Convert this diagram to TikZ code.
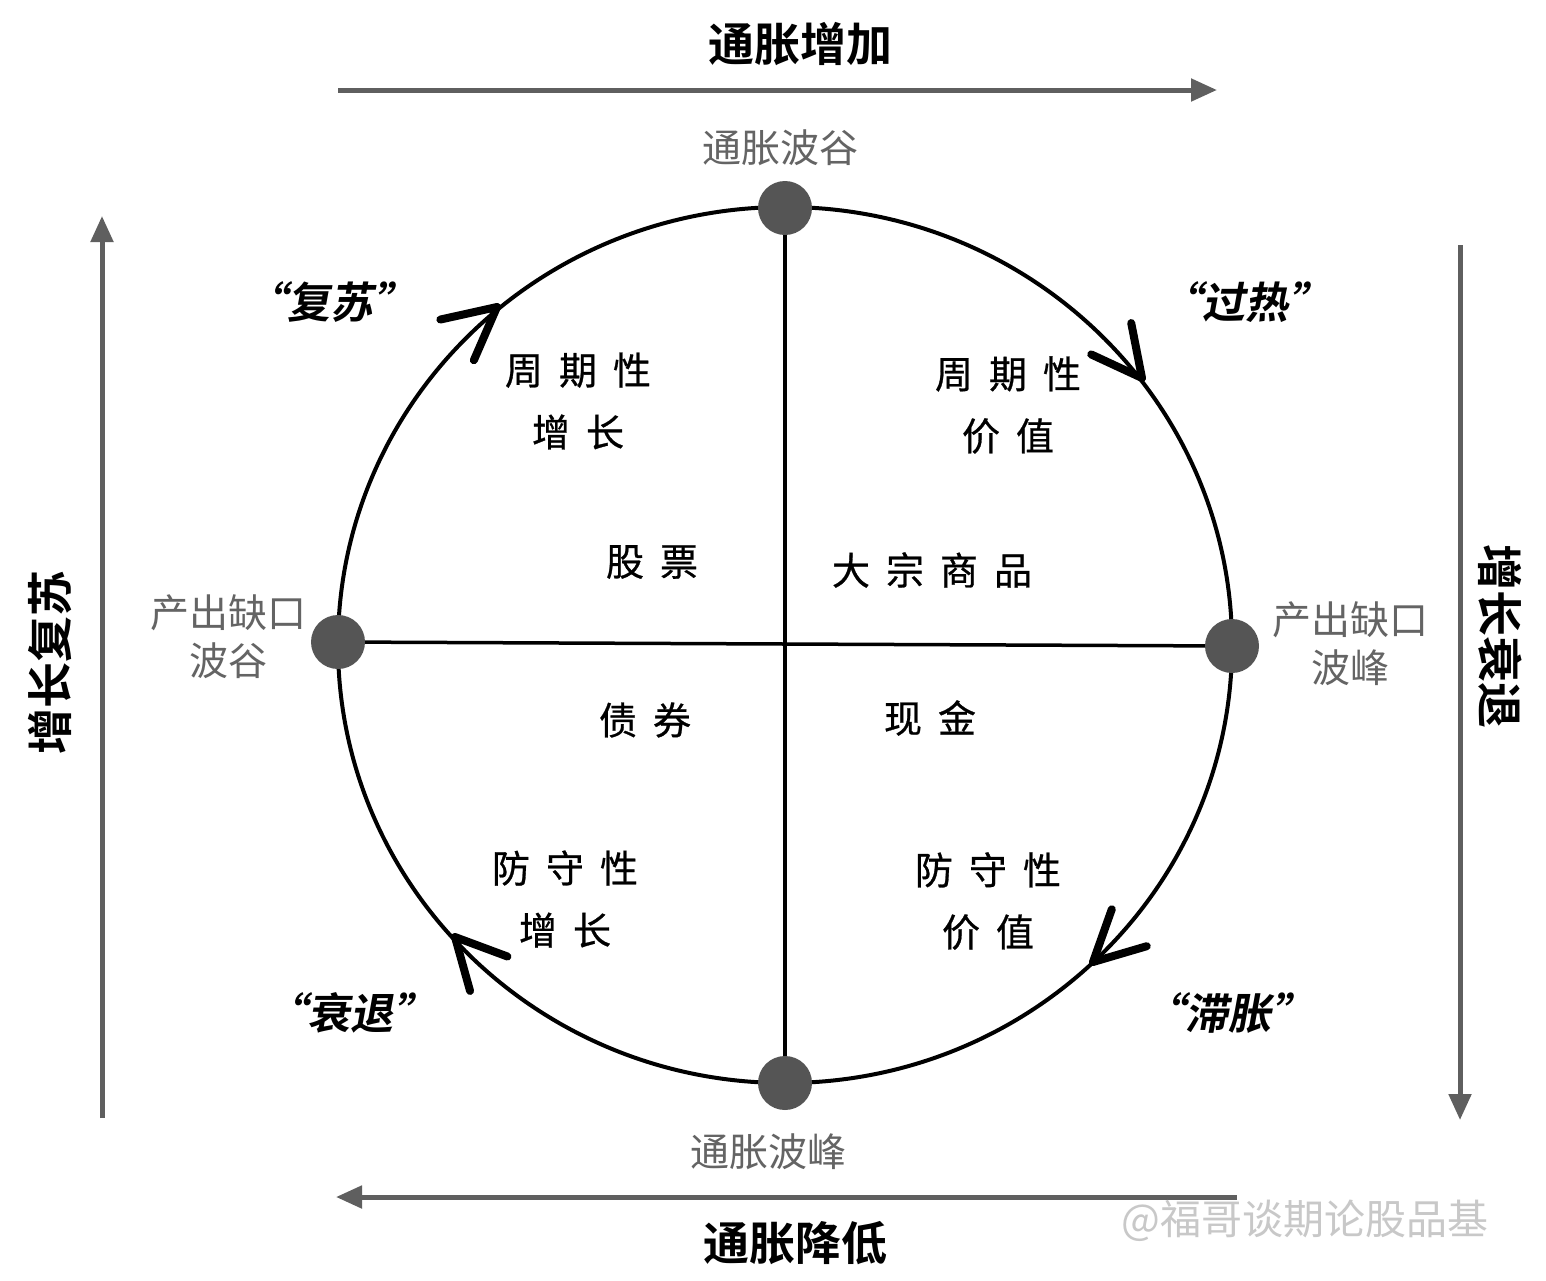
\documentclass[tikz,border=0pt]{standalone}
\usepackage{fontspec}
\setmainfont{Noto Sans CJK SC}
\newfontfamily\cjkb{Noto Sans CJK SC Bold}
\newfontfamily\cjkbi{Noto Sans CJK SC Bold}[FakeSlant=0.18]
\newfontfamily\cjkm{Noto Sans CJK SC}[FakeBold=0.7]
\usetikzlibrary{arrows.meta,backgrounds,calc}
\definecolor{arrgray}{RGB}{95,95,95}
\definecolor{dotgray}{RGB}{85,85,85}
\definecolor{lblgray}{RGB}{100,100,100}
\definecolor{wmgray}{RGB}{200,200,200}
\newcommand\lsgap{\hspace{16pt}}
\begin{document}
\begin{tikzpicture}[x=1pt,y=-1pt,
  bigarrow/.style={draw=arrgray,line width=5pt,-{Triangle[length=26pt,width=22pt]}},
  dirlabel/.style={font=\cjkb\fontsize{46}{52}\selectfont,text=black,inner sep=0pt},
  dotnode/.style={circle,fill=dotgray,minimum size=54pt,inner sep=0pt},
  ptlabel/.style={font=\fontsize{39}{48}\selectfont,text=lblgray,align=center,inner sep=0pt},
  phase/.style={font=\cjkbi\fontsize{43}{48}\selectfont,text=black,inner sep=0pt},
  inner/.style={font=\cjkm\fontsize{38}{62}\selectfont,text=black,align=center,inner sep=0pt},
  chev/.style={line width=8pt,line cap=round,line join=round,draw=black}]
\useasboundingbox (0,0) rectangle (1546,1280);

% axes arrows
\coordinate (ta1) at (338,90); \coordinate (ta2) at (1217,90);
\draw[bigarrow] (ta1) -- (ta2);
\node[dirlabel] (tlab) at (800,44) {通胀增加};
\coordinate (ba1) at (1237,1197); \coordinate (ba2) at (336,1197);
\draw[bigarrow] (ba1) -- (ba2);
\node[dirlabel] (blab) at (795,1243) {通胀降低};
\coordinate (la1) at (102,1118); \coordinate (la2) at (102,216);
\draw[bigarrow] (la1) -- (la2);
\node[dirlabel,rotate=90] (llab) at (50,662) {增长复苏};
\coordinate (ra1) at (1460,245); \coordinate (ra2) at (1460,1120);
\draw[bigarrow] (ra1) -- (ra2);
\node[dirlabel,rotate=-90] (rlab) at (1500,636) {增长衰退};

% circle and dots
\coordinate (c) at (785,645);
\node[dotnode] (dtop) at (785,208) {};
\node[dotnode] (dbot) at (785,1083) {};
\node[dotnode] (dleft) at (338,642) {};
\node[dotnode] (dright) at (1232,646) {};
\begin{scope}[on background layer]
\fill[white] (0,0) rectangle (1546,1280);
\draw[line width=4pt] (c) ellipse [x radius=447, y radius=438];
\draw[line width=3.5pt] (dtop.center) -- (dbot.center);
\draw[line width=3.5pt] (dleft.center) -- (dright.center);
\end{scope}

% chevron arrows on the circle
\coordinate (t1) at (497,307);
\draw[chev] ($(t1)+(113.5:58)$) -- (t1) -- ($(t1)+(167.5:58)$);
\coordinate (t2) at (1142,378);
\draw[chev] ($(t2)+(204.9:56)$) -- (t2) -- ($(t2)+(258.9:56)$);
\coordinate (t3) at (1093,962);
\draw[chev] ($(t3)+(-16.4:56)$) -- (t3) -- ($(t3)+(-70.4:56)$);
\coordinate (t4) at (455,937);
\draw[chev] ($(t4)+(20.4:56)$) -- (t4) -- ($(t4)+(74.4:56)$);

% point labels
\node[ptlabel] (ltop) at (780,148) {通胀波谷};
\node[ptlabel] (lbot) at (768,1152) {通胀波峰};
\node[ptlabel] (lleft) at (228,637) {产出缺口\\波谷};
\node[ptlabel] (lright) at (1350,644) {产出缺口\\波峰};

% phase labels
\node[phase] (p1) at (330,302) {“复苏”};
\node[phase] (p2) at (1245,302) {“过热”};
\node[phase] (p3) at (350,1013) {“衰退”};
\node[phase] (p4) at (1228,1013) {“滞胀”};

% inner texts
\node[inner] (q1) at (578,401) {周\lsgap 期\lsgap 性\\增\lsgap 长};
\node[inner] (q2) at (1008,405) {周\lsgap 期\lsgap 性\\价\lsgap 值};
\node[inner] (s1) at (652,562) {股\lsgap 票};
\node[inner] (s2) at (932,570) {大\lsgap 宗\lsgap 商\lsgap 品};
\node[inner] (s3) at (645,720) {债\lsgap 券};
\node[inner] (s4) at (930,718) {现\lsgap 金};
\node[inner] (q3) at (565,899) {防\lsgap 守\lsgap 性\\增\lsgap 长};
\node[inner] (q4) at (988,901) {防\lsgap 守\lsgap 性\\价\lsgap 值};

% watermark
\node[font=\fontsize{41}{44}\selectfont,text=wmgray,inner sep=0pt] (wm) at (1305,1221) {@福哥谈期论股品基};
\end{tikzpicture}
\end{document}
